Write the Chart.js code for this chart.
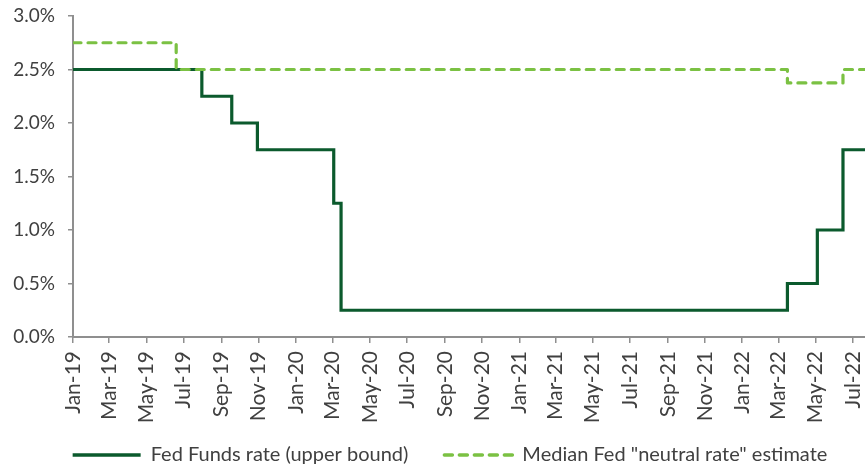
<!DOCTYPE html>
<html><head><meta charset="utf-8">
<script src="https://cdn.jsdelivr.net/npm/chart.js@4/dist/chart.umd.min.js"></script>
<style>
html,body{margin:0;padding:0;background:#fff;overflow:hidden;width:865px;height:466px}
#wrap{width:900px;height:466px}
</style></head>
<body><div id="wrap"><canvas id="c" width="900" height="466"></canvas></div>
<script>
// ---- data ----
const fedDates = ['2019-01-01','2019-07-31','2019-09-18','2019-10-30','2020-03-03','2020-03-15','2022-03-16','2022-05-04','2022-06-15','2022-07-27','2022-08-31'];
const fedRates = [2.50, 2.25, 2.00, 1.75, 1.25, 0.25, 0.50, 1.00, 1.75, 2.50, 2.50];
const neutralDates = ['2019-01-01','2019-06-19','2022-03-16','2022-06-15','2022-08-31'];
const neutralRates = [2.75, 2.50, 2.375, 2.50, 2.50];
const xTickLabels = ['Jan-19','Mar-19','May-19','Jul-19','Sep-19','Nov-19','Jan-20','Mar-20','May-20','Jul-20','Sep-20','Nov-20','Jan-21','Mar-21','May-21','Jul-21','Sep-21','Nov-21','Jan-22','Mar-22','May-22','Jul-22'];
const yTickValues = [0, 0.5, 1.0, 1.5, 2.0, 2.5, 3.0];
const seriesNames = ['Fed Funds rate (upper bound)', 'Median Fed "neutral rate" estimate'];
const startDate = '2019-01-01';
const endDate = '2022-08-31';

// ---- helpers ----
const MONTHS = ['Jan','Feb','Mar','Apr','May','Jun','Jul','Aug','Sep','Oct','Nov','Dec'];
function dayIndex(s){
  const [y,m,d] = s.split('-').map(Number);
  const [y0,m0,d0] = startDate.split('-').map(Number);
  return (Date.UTC(y,m-1,d) - Date.UTC(y0,m0-1,d0)) / 86400000;
}
function labelDay(lbl){
  const [mon, yy] = lbl.split('-');
  const m = MONTHS.indexOf(mon) + 1;
  return dayIndex('20' + yy + '-' + String(m).padStart(2,'0') + '-01');
}
const xTickDays = xTickLabels.map(labelDay);
const fedData = fedDates.map((d,i)=>({x: dayIndex(d), y: fedRates[i]}));
const neutralData = neutralDates.map((d,i)=>({x: dayIndex(d), y: neutralRates[i]}));

const FONT = 'Lato';
const TXT = '#404040';
const AXIS = '#8f8f8f';

// place the legend box a fixed distance below the chart
const legendPlace = {
  id: 'legendPlace',
  afterLayout(chart) {
    const lg = chart.legend;
    if (!lg) return;
    const h = lg.height;
    lg.top = 409;
    lg.bottom = lg.top + h;
    lg.left += 5;
    lg.right += 5;
  }
};

new Chart(document.getElementById('c'), {
  type: 'line',
  data: {
    datasets: [
      { label: seriesNames[0], data: fedData, stepped: true, borderColor: '#0b5a2d', backgroundColor: '#0b5a2d',
        borderWidth: 3.2, pointRadius: 0, fill: false, order: 2, borderCapStyle: 'butt', borderJoinStyle: 'miter' },
      { label: seriesNames[1], data: neutralData, stepped: true, borderColor: '#7bc143', backgroundColor: '#7bc143',
        borderWidth: 3.2, pointRadius: 0, fill: false, order: 1, borderDash: [8,7], borderCapStyle: 'round', borderJoinStyle: 'round' }
    ]
  },
  plugins: [legendPlace],
  options: {
    responsive: false,
    animation: false,
    devicePixelRatio: 1,
    layout: { padding: { top: 16, right: 10, left: 0, bottom: -32 } },
    plugins: {
      tooltip: { enabled: false },
      legend: {
        position: 'bottom',
        labels: {
          usePointStyle: true, pointStyle: 'line', pointStyleWidth: 68,
          padding: 36, color: TXT, font: { family: FONT, size: 20 },
          sort: (a,b) => a.datasetIndex - b.datasetIndex,
          generateLabels: (chart) => Chart.defaults.plugins.legend.labels.generateLabels(chart).map(item => {
            const ds = chart.data.datasets[item.datasetIndex];
            item.pointStyle = 'line';
            item.strokeStyle = ds.borderColor;
            item.fillStyle = ds.borderColor;
            item.lineWidth = 3.5;
            item.lineDash = ds.borderDash || [];
            item.lineCap = ds.borderCapStyle;
            return item;
          })
        }
      }
    },
    scales: {
      x: {
        type: 'linear', min: 0, max: dayIndex(endDate),
        afterBuildTicks: (s) => { s.ticks = xTickDays.map(v => ({ value: v })); },
        afterFit: (s) => { s.height = 95; },
        ticks: {
          autoSkip: false, minRotation: 90, maxRotation: 90, padding: 8,
          color: TXT, font: { family: FONT, size: 21 },
          callback: (v, i) => xTickLabels[i]
        },
        grid: { drawOnChartArea: false, drawTicks: true, tickLength: 6, color: AXIS, lineWidth: 1.5 },
        border: { color: AXIS, width: 2 }
      },
      y: {
        min: 0, max: 3,
        afterBuildTicks: (s) => { s.ticks = yTickValues.map(v => ({ value: v })); },
        afterFit: (s) => { s.width = 73; s.paddingTop = 0; s.paddingBottom = 0; },
        ticks: { padding: 13, color: TXT, font: { family: FONT, size: 19 },
          callback: (v) => v.toFixed(1) + '%' },
        grid: { drawOnChartArea: false, drawTicks: true, tickLength: 5, color: AXIS, lineWidth: 1.5 },
        border: { color: AXIS, width: 2 }
      }
    }
  }
});
</script>
</body></html>
